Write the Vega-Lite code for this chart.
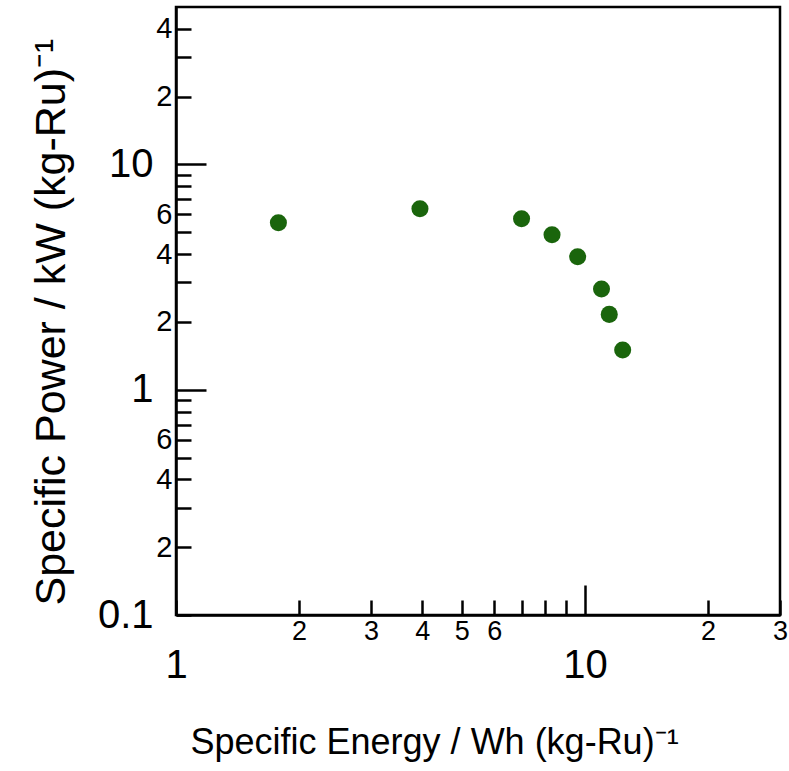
{
  "$schema": "https://vega.github.io/schema/vega-lite/v6.json",
  "width": 604,
  "height": 608,
  "autosize": "none",
  "padding": {"left": 176, "top": 7, "right": 9, "bottom": 156},
  "background": "white",
  "config": {
    "view": {"stroke": "black", "strokeWidth": 2.5},
    "font": "Liberation Sans"
  },
  "data": {
    "values": [
      {"energy": 1.78, "power": 5.51},
      {"energy": 3.95, "power": 6.36},
      {"energy": 7.0, "power": 5.74},
      {"energy": 8.31, "power": 4.87},
      {"energy": 9.6, "power": 3.89},
      {"energy": 10.98, "power": 2.8},
      {"energy": 11.47, "power": 2.16},
      {"energy": 12.37, "power": 1.5}
    ]
  },
  "mark": {"type": "point", "filled": true, "size": 290, "color": "#1a650c", "opacity": 1},
  "encoding": {
    "x": {
      "field": "energy",
      "type": "quantitative",
      "scale": {"type": "log", "domain": [1, 30], "nice": false},
      "axis": {
        "title": "Specific Energy / Wh (kg-Ru)⁻¹",
        "values": [1, 2, 3, 4, 5, 6, 7, 8, 9, 10, 20, 30],
        "labelExpr": "datum.value==1?'1':datum.value==10?'10':datum.value==20?'2':datum.value==30?'3':(datum.value<7?format(datum.value,'d'):'')",
        "labelFontSize": {"condition": {"test": "datum.value==1||datum.value==10", "value": 40}, "value": 27},
        "labelPadding": {"condition": [{"test": "datum.value==10", "value": 60}, {"test": "datum.value==1", "value": 45}], "value": 18},
        "tickSize": {"condition": {"test": "datum.value==10", "value": -30}, "value": -15},
        "tickWidth": 2.5,
        "tickColor": "black",
        "domainColor": "black",
        "domainWidth": 2.5,
        "labelColor": "black",
        "labelFlush": false,
        "labelOverlap": false,
        "labelBaseline": "top",
        "grid": false,
        "titleFontSize": 36,
        "titleFontWeight": "normal",
        "titleColor": "black",
        "titleX": 14,
        "titleY": 138,
        "titleAlign": "left",
        "titleBaseline": "alphabetic"
      }
    },
    "y": {
      "field": "power",
      "type": "quantitative",
      "scale": {"type": "log", "domain": [0.1, 50], "nice": false},
      "axis": {
        "title": "Specific Power / kW (kg-Ru)⁻¹",
        "values": [0.1, 0.2, 0.3, 0.4, 0.5, 0.6, 0.7, 0.8, 0.9, 1, 2, 3, 4, 5, 6, 7, 8, 9, 10, 20, 30, 40],
        "labelExpr": "datum.value==0.1?'0.1':datum.value==1?'1':datum.value==10?'10':(datum.value==0.2||datum.value==2||datum.value==20)?'2':(datum.value==0.4||datum.value==4||datum.value==40)?'4':(datum.value==0.6||datum.value==6)?'6':''",
        "labelFontSize": {"condition": {"test": "datum.value==0.1||datum.value==1||datum.value==10", "value": 40}, "value": 29},
        "labelPadding": {"condition": [{"test": "datum.value==1||datum.value==10", "value": 53}, {"test": "datum.value==0.1", "value": 38}], "value": 19},
        "tickSize": {"condition": {"test": "datum.value==1||datum.value==10", "value": -30}, "value": -15},
        "tickWidth": 2.5,
        "tickColor": "black",
        "domainColor": "black",
        "domainWidth": 2.5,
        "labelColor": "black",
        "labelFlush": false,
        "labelOverlap": false,
        "labelBaseline": "middle",
        "grid": false,
        "titleFontSize": 43,
        "titleFontWeight": "normal",
        "titleColor": "black",
        "titleAngle": -90,
        "titleX": -112,
        "titleY": 598,
        "titleAlign": "left",
        "titleBaseline": "alphabetic"
      }
    }
  }
}
